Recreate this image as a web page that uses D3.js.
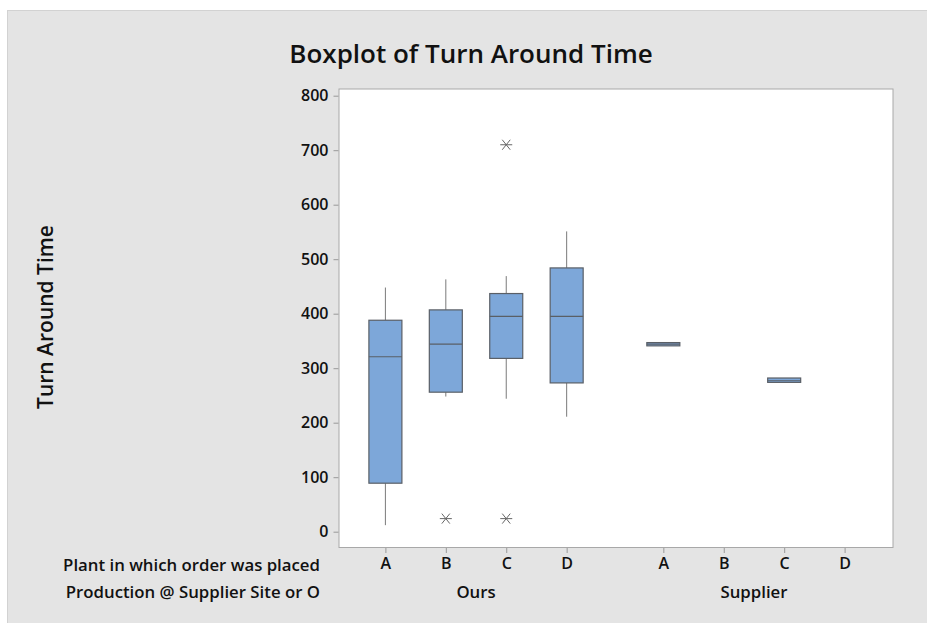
<!DOCTYPE html>
<html>
<head>
<meta charset="utf-8">
<title>Boxplot of Turn Around Time</title>
<script src="https://cdn.jsdelivr.net/npm/d3@7"></script>
<style>
  body { margin: 0; background: #fff; }
  text { font-family: "Open Sans", "Noto Sans", sans-serif; font-weight: 600; fill: #111; }
</style>
</head>
<body>
<div id="chart"></div>
<script>

	// Summary values (Minitab boxplot)
	var groups = ["Ours", "Supplier"];
	var plants = ["A", "B", "C", "D"];
	// one entry per group x plant, null where no data
	var q1       = [ 89, 256, 318, 273,   341, null, 274, null];
	var medians  = [321, 344, 395, 395,   344, null, 277, null];
	var q3       = [388, 407, 437, 484,   347, null, 282, null];
	var whiskLo  = [ 12, 248, 244, 211,   341, null, 274, null];
	var whiskHi  = [448, 463, 469, 551,   347, null, 282, null];
	var outliers = [[], [24], [24, 710], [], [], [], [], []];
	var yTicks = [0, 100, 200, 300, 400, 500, 600, 700, 800];

	var W = 927, H = 623;
	var plot = {left: 339, right: 893, top: 89, bottom: 547.5};

	var svg = d3.select("#chart").append("svg")
		.attr("width", W).attr("height", H);

	// gray page panel
	svg.append("rect")
		.attr("x", 7.5).attr("y", 10.5)
		.attr("width", W).attr("height", H)
		.attr("fill", "#e4e4e4").attr("stroke", "#d2d2d2");

	// scales
	var y = d3.scaleLinear().domain([0, 800]).range([531.7, 95.7]);
	// position index: group offset 4.6 slots, plant 1 slot
	var x = d3.scaleLinear().domain([0, 7.6]).range([385.4, 844.6]);
	function pos(i) { return Math.floor(i / 4) * 4.6 + (i % 4); }

	// plot area
	svg.append("rect")
		.attr("x", plot.left).attr("y", plot.top)
		.attr("width", plot.right - plot.left)
		.attr("height", plot.bottom - plot.top)
		.attr("fill", "#fff").attr("stroke", "#a8a8a8");

	// y axis
	var yAxis = d3.axisLeft(y).tickValues(yTicks).tickSize(5).tickPadding(5);
	var gy = svg.append("g").attr("transform", "translate(" + (plot.left - 0.5) + ",0)").call(yAxis);
	gy.select(".domain").remove();
	gy.selectAll("line").attr("stroke", "#999");
	gy.selectAll("text").style("font-size", "16px").attr("fill", "#111");

	// x axis ticks + plant labels
	var idx = d3.range(groups.length * plants.length);
	var xAxis = d3.axisBottom(x).tickValues(idx.map(pos))
		.tickFormat(function(d, i) { return plants[i % 4]; })
		.tickSize(5).tickPadding(5);
	var gx = svg.append("g").attr("transform", "translate(0," + (plot.bottom + 0.5) + ")").call(xAxis);
	gx.select(".domain").remove();
	gx.selectAll("line").attr("stroke", "#999");
	gx.selectAll("text").style("font-size", "16px").attr("fill", "#111");

	// group labels
	svg.selectAll(".grp").data(groups).enter().append("text")
		.attr("class", "grp")
		.attr("x", function(d, g) { return (x(g * 4.6) + x(g * 4.6 + 3)) / 2; })
		.attr("y", 598)
		.attr("text-anchor", "middle")
		.style("font-size", "16.8px")
		.text(function(d) { return d; });

	// row titles on the left
	svg.append("text").attr("x", 320).attr("y", 571).attr("text-anchor", "end")
		.style("font-size", "16.8px").text("Plant in which order was placed");
	svg.append("text").attr("x", 320).attr("y", 598).attr("text-anchor", "end")
		.style("font-size", "16.8px").text("Production @ Supplier Site or O");

	// title and y title
	svg.append("text").attr("x", 471).attr("y", 63).attr("text-anchor", "middle")
		.style("font-size", "26px").text("Boxplot of Turn Around Time");
	svg.append("text")
		.attr("transform", "translate(53,317) rotate(-90)")
		.attr("text-anchor", "middle")
		.style("font-size", "21px").text("Turn Around Time");

	// boxes
	var boxW = 33;
	var data = idx.map(function(i) {
		return {i: i, q1: q1[i], med: medians[i], q3: q3[i], lo: whiskLo[i], hi: whiskHi[i], out: outliers[i]};
	}).filter(function(d) { return d.q1 !== null; });

	var bx = svg.append("g").selectAll("g").data(data).enter().append("g")
		.attr("transform", function(d) { return "translate(" + x(pos(d.i)) + ",0)"; });

	bx.append("line").attr("x1", 0).attr("x2", 0)
		.attr("y1", function(d) { return y(d.hi); })
		.attr("y2", function(d) { return y(d.q3); })
		.attr("stroke", "#7a7a7a");
	bx.append("line").attr("x1", 0).attr("x2", 0)
		.attr("y1", function(d) { return y(d.q1); })
		.attr("y2", function(d) { return y(d.lo); })
		.attr("stroke", "#7a7a7a");
	bx.append("rect")
		.attr("x", -boxW / 2)
		.attr("y", function(d) { return y(d.q3); })
		.attr("width", boxW)
		.attr("height", function(d) { return y(d.q1) - y(d.q3); })
		.attr("fill", "#7da7d9").attr("stroke", "#5a5f66").attr("stroke-width", 1.2);
	bx.append("line")
		.attr("x1", -boxW / 2).attr("x2", boxW / 2)
		.attr("y1", function(d) { return y(d.med); })
		.attr("y2", function(d) { return y(d.med); })
		.attr("stroke", "#5a5f66").attr("stroke-width", 1.2);

	// outliers as asterisks
	var star = "M-6,0L6,0M-4,-5L4,5M-4,5L4,-5";
	bx.selectAll(".out").data(function(d) { return d.out; }).enter().append("path")
		.attr("class", "out")
		.attr("transform", function(v) { return "translate(0," + y(v) + ")"; })
		.attr("d", star)
		.attr("fill", "none").attr("stroke", "#666").attr("stroke-width", 1);

</script>
</body>
</html>
